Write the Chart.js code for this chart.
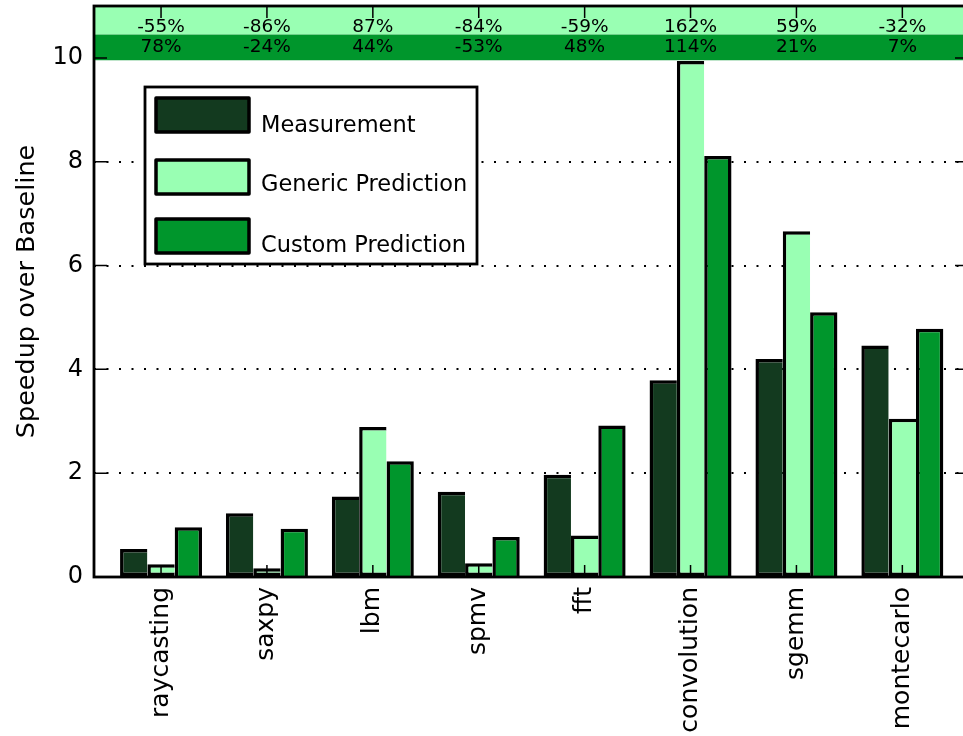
<!DOCTYPE html>
<html><head><meta charset="utf-8">
<script src="https://cdn.jsdelivr.net/npm/chart.js@4.4.0/dist/chart.umd.min.js"></script>
<style>html,body{margin:0;padding:0;overflow:hidden;background:#fff;width:963px;height:736px}canvas{display:block}</style>
</head><body><canvas id="c" width="980" height="736"></canvas>
<script>
const categories = ['raycasting','saxpy','lbm','spmv','fft','convolution','sgemm','montecarlo'];
const measurement = [0.54,1.23,1.55,1.64,1.97,3.79,4.20,4.46];
const genericPrediction = [0.245,0.17,2.89,0.265,0.80,9.94,6.66,3.05];
const customPrediction = [0.96,0.93,2.23,0.77,2.92,8.11,5.10,4.78];
const genericError = ['-55%','-86%','87%','-84%','-59%','162%','59%','-32%'];
const customError = ['78%','-24%','44%','-53%','48%','114%','21%','7%'];
const yTicks = [0,2,4,6,8,10];

const FONT = 'DejaVu Sans';
const DARK = '#133a1f', LIGHT = '#99ffb3', MID = '#00962c';

const toXY = arr => arr.map((v,i)=>({x:i,y:v}));

const decor = {
  id:'decor',
  beforeDatasetsDraw(chart){
    const {ctx, chartArea:a, scales:{y}} = chart;
    ctx.save();
    ctx.fillStyle = LIGHT;
    ctx.fillRect(a.left, y.getPixelForValue(11), a.right-a.left, y.getPixelForValue(10.45)-y.getPixelForValue(11));
    ctx.fillStyle = MID;
    ctx.fillRect(a.left, y.getPixelForValue(10.45), a.right-a.left, y.getPixelForValue(9.955)-y.getPixelForValue(10.45));
    ctx.restore();
  },
  afterDraw(chart){
    const {ctx, chartArea:a, scales:{x,y}} = chart;
    ctx.save();
    ctx.fillStyle = '#000';
    ctx.font = '18.5px "'+FONT+'"';
    ctx.textAlign = 'center';
    ctx.textBaseline = 'middle';
    categories.forEach((c,i)=>{
      const px = x.getPixelForValue(i);
      ctx.fillText(genericError[i], px, y.getPixelForValue(10.59));
      ctx.fillText(customError[i], px, y.getPixelForValue(10.2));
    });
    ctx.strokeStyle = '#000';
    ctx.lineWidth = 1.5;
    ctx.beginPath();
    yTicks.forEach(v=>{
      const py = y.getPixelForValue(v);
      ctx.moveTo(a.left, py); ctx.lineTo(a.left+13, py);
      ctx.moveTo(a.right, py); ctx.lineTo(a.right-13, py);
    });
    categories.forEach((c,i)=>{
      const px = x.getPixelForValue(i);
      ctx.moveTo(px, a.top); ctx.lineTo(px, a.top+12);
      ctx.moveTo(px, a.bottom); ctx.lineTo(px, a.bottom-12);
    });
    ctx.stroke();
    ctx.lineWidth = 2.8;
    ctx.strokeRect(a.left, a.top, a.right-a.left, a.bottom-a.top);
    const bx = 145, by = 87, bw = 332, bh = 177;
    ctx.fillStyle = '#fff';
    ctx.fillRect(bx, by, bw, bh);
    ctx.lineWidth = 2.8;
    ctx.strokeRect(bx, by, bw, bh);
    const patchY = [98, 160, 219];
    const textY = [132, 191, 252];
    ctx.font = '22.5px "'+FONT+'"';
    ctx.textAlign = 'left';
    ctx.textBaseline = 'alphabetic';
    ctx.lineWidth = 3.5;
    ctx.lineJoin = 'round';
    chart.data.datasets.forEach((ds,i)=>{
      ctx.fillStyle = ds.backgroundColor;
      ctx.fillRect(156, patchY[i], 93, 34);
      ctx.strokeRect(156, patchY[i], 93, 34);
      ctx.fillStyle = '#000';
      ctx.fillText(ds.label, 261, textY[i]);
    });
    ctx.restore();
  }
};

const barCommon = {borderColor:'#000', borderWidth:3.5, categoryPercentage:0.774, barPercentage:1};

new Chart(document.getElementById('c'), {
  type:'bar',
  data:{
    datasets:[
      Object.assign({label:'Measurement', data:toXY(measurement), backgroundColor:DARK, borderSkipped:'right'}, barCommon),
      Object.assign({label:'Generic Prediction', data:toXY(genericPrediction), backgroundColor:LIGHT, borderSkipped:'right'}, barCommon),
      Object.assign({label:'Custom Prediction', data:toXY(customPrediction), backgroundColor:MID, borderSkipped:'bottom'}, barCommon)
    ]
  },
  options:{
    responsive:false, animation:false, devicePixelRatio:1,
    layout:{padding:{left:0, top:6, right:12, bottom:0}},
    plugins:{legend:{display:false}, tooltip:{enabled:false}},
    scales:{
      x:{
        type:'linear', min:-0.633, max:7.62, offset:false,
        afterBuildTicks:s=>{ s.ticks = categories.map((_,i)=>({value:i})); },
        afterFit:s=>{ s.height = 159; s.paddingLeft = 0; s.paddingRight = 0; },
        grid:{display:false, drawTicks:false},
        border:{display:false},
        ticks:{callback:v=>categories[v], autoSkip:false, maxRotation:90, minRotation:90, padding:10, color:'#000', font:{family:FONT, size:25}}
      },
      y:{
        min:0, max:11, z:1,
        afterBuildTicks:s=>{ s.ticks = yTicks.map(v=>({value:v})); },
        afterFit:s=>{ s.width = 94; s.paddingTop = 0; s.paddingBottom = 0; },
        grid:{color:c=> (c.tick && c.tick.value>0) ? '#000' : 'rgba(0,0,0,0)', lineWidth:2, drawTicks:false},
        border:{display:false, dash:[2,10.5]},
        ticks:{padding:11, color:'#000', font:{family:FONT, size:24}},
        title:{display:true, text:'Speedup over Baseline', color:'#000', font:{family:FONT, size:25.5}, padding:{top:12, bottom:0}}
      }
    }
  },
  plugins:[decor]
});
</script></body></html>
